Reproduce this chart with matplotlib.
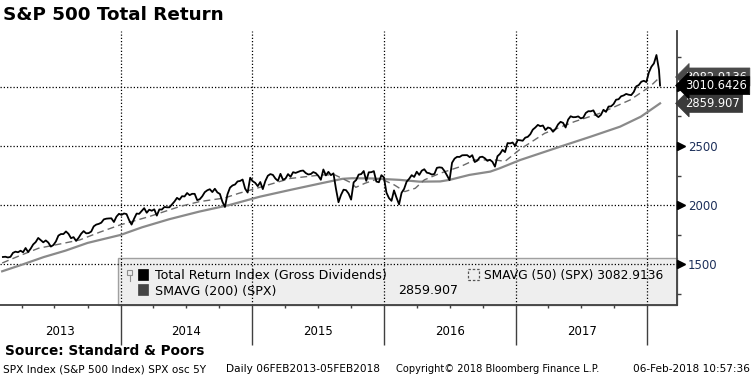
import matplotlib
matplotlib.use("Agg")
import matplotlib.pyplot as plt
import matplotlib.dates as mdates
import matplotlib.transforms as mtransforms
from matplotlib.patches import Rectangle
from matplotlib.ticker import NullFormatter
import pandas as pd

# Total return index, weekly closes (Fridays from 08-Feb-2013)
tr_2013 = [1561, 1563, 1557, 1562, 1596, 1606, 1601, 1614, 1601, 1637, 1603, 1631,
           1667, 1687, 1722, 1704, 1685, 1701, 1683, 1649, 1662, 1692, 1742, 1755,
           1755, 1777, 1757, 1720, 1729, 1697, 1723, 1757, 1780, 1761, 1763, 1776,
           1820, 1835, 1841, 1851, 1879, 1885, 1887, 1888, 1857, 1902, 1926]
tr_2014 = [1917, 1929, 1924, 1874, 1835, 1885, 1928, 1926, 1950, 1974, 1935, 1961,
           1952, 1964, 1911, 1963, 1962, 1984, 1981, 1981, 2005, 2030, 2061, 2046,
           2075, 2073, 2102, 2084, 2095, 2095, 2042, 2049, 2074, 2109, 2125, 2134,
           2110, 2138, 2107, 2094, 2028, 1984, 2091, 2147, 2166, 2174, 2200, 2204,
           2216, 2139, 2106, 2231]
tr_2015 = [2202, 2188, 2160, 2195, 2135, 2203, 2248, 2262, 2255, 2224, 2205, 2264,
           2214, 2224, 2262, 2239, 2278, 2272, 2281, 2289, 2292, 2271, 2259, 2262,
           2279, 2270, 2247, 2214, 2301, 2251, 2281, 2253, 2268, 2137, 2024, 2086,
           2130, 2126, 2097, 2046, 2192, 2212, 2258, 2262, 2288, 2205, 2277, 2278,
           2287, 2199, 2193, 2253, 2234]
tr_2016 = [2105, 2059, 2036, 2124, 2062, 2006, 2104, 2137, 2198, 2222, 2253, 2238,
           2282, 2255, 2291, 2303, 2274, 2269, 2258, 2263, 2315, 2319, 2316, 2288,
           2251, 2211, 2358, 2393, 2408, 2407, 2421, 2422, 2422, 2405, 2422, 2364,
           2376, 2405, 2409, 2396, 2374, 2383, 2366, 2325, 2413, 2433, 2467, 2448,
           2524, 2522, 2529, 2501]
tr_2017 = [2550, 2548, 2544, 2570, 2577, 2599, 2638, 2656, 2678, 2667, 2673, 2635,
           2656, 2649, 2620, 2643, 2682, 2704, 2695, 2656, 2723, 2751, 2743, 2744,
           2750, 2733, 2740, 2779, 2794, 2793, 2801, 2761, 2744, 2763, 2806, 2788,
           2833, 2835, 2854, 2891, 2895, 2920, 2927, 2940, 2933, 2930, 2956, 3004,
           3015, 3043, 3051, 3040]
tr_2018 = [3122, 3170, 3198, 3269, 3143]
tr_last_date = "2018-02-05"
tr_last = 3010.6426

# 50 day moving average
ma50_dates = ["2013-02-06", "2013-03-25", "2013-05-18", "2013-07-15", "2013-09-09",
              "2013-11-03", "2013-12-30", "2014-03-20", "2014-06-13", "2014-08-07",
              "2014-10-16", "2014-11-25", "2015-01-22", "2015-04-16", "2015-07-12",
              "2015-08-18", "2015-10-01", "2015-10-15", "2015-11-10", "2015-12-20",
              "2016-01-30", "2016-02-28", "2016-03-28", "2016-04-22", "2016-06-05",
              "2016-07-31", "2016-09-09", "2016-11-03", "2016-12-02", "2017-01-12",
              "2017-03-22", "2017-06-13", "2017-08-22", "2017-11-14", "2018-01-08",
              "2018-02-05"]
ma50_vals = [1510, 1570, 1635, 1670, 1705, 1770, 1832, 1902, 1987, 2029,
             2060, 2100, 2150, 2225, 2255, 2255, 2190, 2150, 2185, 2227,
             2170, 2114, 2142, 2213, 2269, 2325, 2382, 2382, 2370, 2470,
             2607, 2706, 2776, 2889, 3002, 3082.9136]

# 200 day moving average
ma200_dates = ["2013-02-06", "2013-04-01", "2013-06-01", "2013-08-01", "2013-10-01",
               "2014-01-01", "2014-03-01", "2014-05-15", "2014-08-07", "2014-10-30",
               "2015-01-22", "2015-04-16", "2015-07-12", "2015-09-08", "2015-10-05",
               "2015-12-01", "2016-02-14", "2016-04-09", "2016-06-05", "2016-07-01",
               "2016-08-25", "2016-10-22", "2016-11-17", "2017-01-12", "2017-05-04",
               "2017-07-28", "2017-10-17", "2017-12-14", "2018-02-05"]
ma200_vals = [1440, 1495, 1560, 1615, 1680, 1748, 1812, 1880, 1945, 2001,
              2071, 2128, 2185, 2222, 2227, 2225, 2213, 2198, 2200, 2213,
              2255, 2283, 2311, 2380, 2494, 2579, 2663, 2748, 2859.907]

years = [2013, 2014, 2015, 2016, 2017]
y_major = [1500, 2000, 2500, 3000]
y_minor = [1250, 1750, 2250, 2750, 3250]

tr_vals = tr_2013 + tr_2014 + tr_2015 + tr_2016 + tr_2017 + tr_2018
tr_dates = pd.date_range("2013-02-08", periods=len(tr_vals), freq="W-FRI")
tr_dates = tr_dates.append(pd.DatetimeIndex([tr_last_date]))
tr_vals = tr_vals + [tr_last]

W, H = 752, 377
navy = "#1c2f5a"
axcol = "#404040"

fig = plt.figure(figsize=(W / 100, H / 100), dpi=100)
ax = fig.add_axes([0, 1 - 305 / H, 677 / W, (305 - 31) / H])


def px(x, y):
    # pixel position -> figure fraction
    return (x / W, 1 - y / H)


ax.plot(pd.to_datetime(ma200_dates), ma200_vals, color="#8a8a8a", lw=1.6, zorder=3)
ax.plot(pd.to_datetime(ma50_dates), ma50_vals, color="#6a6a6a", lw=1.0,
        ls=(0, (5, 3)), zorder=3)
ax.plot(tr_dates, tr_vals, color="black", lw=1.3, zorder=4)

x0 = pd.Timestamp("2013-01-31")
ax.set_xlim(x0, pd.Timestamp("2018-03-24"))
ax.set_ylim(1155, 3472)

for s in ["left", "top"]:
    ax.spines[s].set_visible(False)
for s in ["right", "bottom"]:
    ax.spines[s].set_color(axcol)
    ax.spines[s].set_linewidth(1.3)

# y axis on the right
ax.yaxis.tick_right()
ax.set_yticks(y_major)
ax.set_yticks(y_minor, minor=True)
ax.tick_params(axis="y", which="major", length=0, pad=8, labelsize=8.5,
               labelcolor=navy)
ax.tick_params(axis="y", which="minor", length=3, width=1, color=axcol)
trans = mtransforms.blended_transform_factory(ax.transAxes, ax.transData)
tri = mtransforms.offset_copy(trans, fig=fig, x=4, y=0, units="dots")
ax.plot([1] * len(y_major), y_major, transform=tri, marker=">", ms=5.5,
        color="black", ls="none", clip_on=False, zorder=6)

# x axis: years
ax.xaxis.set_major_locator(mdates.YearLocator())
ax.xaxis.set_minor_locator(mdates.MonthLocator(bymonth=[1, 4, 7, 10]))
ax.xaxis.set_major_formatter(NullFormatter())
ax.tick_params(axis="x", which="major", length=29, width=1, color=axcol)
ax.tick_params(axis="x", which="minor", length=2.5, width=1, color=axcol)
for yr in years:
    left = max(pd.Timestamp(f"{yr}-01-01"), x0)
    right = pd.Timestamp(f"{yr + 1}-01-01")
    mid = left + (right - left) / 2
    ax.annotate(str(yr), xy=(mid, 0), xycoords=("data", "axes fraction"),
                xytext=(0, -19), textcoords="offset points", ha="center",
                va="center", fontsize=8.5, color="black")

ax.grid(which="major", color="black", lw=0.9, ls=(0, (1, 1.6)))

# value boxes at the right, last one drawn on top (the 50d one sits half hidden)
boxes = [(ma50_vals[-1], "3082.9136", "#4a4a4a"),
         (ma200_vals[-1], "2859.907", "#3a3a3a"),
         (tr_last, "3010.6426", "black")]
for i, (yv, txt, col) in enumerate(boxes):
    ax.annotate(txt, xy=(1, yv), xycoords=trans, xytext=(6, 0),
                textcoords="offset points", ha="left", va="center",
                fontsize=8.3, color="white", annotation_clip=False,
                zorder=10 + i,
                bbox=dict(boxstyle="larrow,pad=0.22", fc=col, ec=col, lw=0.5))

# legend panel
ax.add_patch(Rectangle(px(118, 305), (677 - 118) / W, (305 - 258) / H,
                       transform=fig.transFigure, fc="#eeeeee", ec="#a0a0a0",
                       lw=1, zorder=1, clip_on=False))
ax.add_patch(Rectangle(px(127, 275), 5 / W, 5 / H, transform=fig.transFigure,
                       fc="none", ec="#909090", lw=0.8, zorder=7, clip_on=False))
ax.plot([px(129.5, 275)[0], px(129.5, 281)[0]], [px(0, 275)[1], px(0, 281)[1]],
        transform=fig.transFigure, color="#909090", lw=0.8, zorder=7, clip_on=False)
ax.add_patch(Rectangle(px(138, 280), 10 / W, 11 / H, transform=fig.transFigure,
                       fc="black", ec="black", lw=0.5, zorder=7, clip_on=False))
ax.add_patch(Rectangle(px(138, 295), 10 / W, 11 / H, transform=fig.transFigure,
                       fc="#444444", ec="#444444", lw=0.5, zorder=7, clip_on=False))
ax.add_patch(Rectangle(px(468, 280), 11 / W, 11 / H, transform=fig.transFigure,
                       fc="none", ec="#555555", lw=0.9, ls=(0, (2, 1.5)),
                       zorder=7, clip_on=False))

leg_fs = 9.1
fig.text(*px(155, 276), "Total Return Index (Gross Dividends)", fontsize=leg_fs,
         va="center", ha="left", zorder=8)
fig.text(*px(155, 291), "SMAVG (200) (SPX)", fontsize=leg_fs, va="center",
         ha="left", zorder=8)
fig.text(*px(398, 291), "2859.907", fontsize=leg_fs, va="center", ha="left",
         zorder=8)
fig.text(*px(484, 276), "SMAVG (50) (SPX) 3082.9136", fontsize=8.8,
         va="center", ha="left", zorder=8)

# titles and footer
fig.text(*px(3, 15), "S&P 500 Total Return", fontsize=13.2, fontweight="bold",
         va="center", ha="left")
fig.text(*px(5, 351), "Source: Standard & Poors", fontsize=9.8, fontweight="bold",
         va="center", ha="left")
foot_fs = 7.6
fig.text(*px(3, 369), "SPX Index (S&P 500 Index) SPX osc 5Y", fontsize=foot_fs,
         va="center", ha="left")
fig.text(*px(226, 369), "Daily 06FEB2013-05FEB2018", fontsize=foot_fs,
         va="center", ha="left")
fig.text(*px(396, 369), "Copyright\u00a9 2018 Bloomberg Finance L.P.",
         fontsize=7.1, va="center", ha="left")
fig.text(*px(750, 369), "06-Feb-2018 10:57:36", fontsize=foot_fs, va="center",
         ha="right")

fig.savefig("out.png", dpi=100)
